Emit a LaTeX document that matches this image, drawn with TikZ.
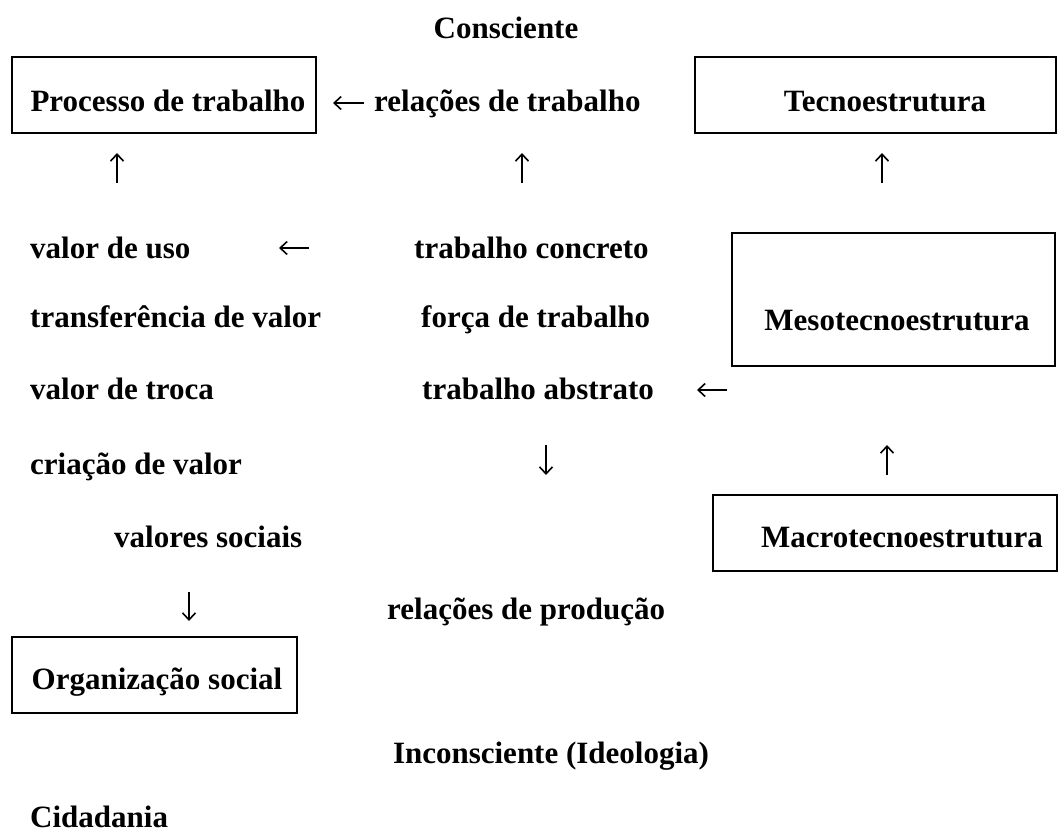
\documentclass[tikz,border=0pt]{standalone}
\usepackage{fontspec}
\setmainfont{Liberation Serif}
\usepackage{tikz}
\usetikzlibrary{arrows.meta,positioning}

\tikzset{
  box/.style={draw, line width=1.6pt, inner sep=0pt},
  lbl/.style={font=\fontsize{31}{36}\selectfont\bfseries, inner sep=0pt},
  glyph/.style={line width=1.6pt, -{Straight Barb[length=7pt,width=13pt,line width=1.6pt]}}
}

\begin{document}
\begin{tikzpicture}[x=1pt,y=-1pt]
\useasboundingbox (0,0) rectangle (1059,832);
% boxes
\node[box, minimum width=304pt, minimum height=76pt] (proc) at (164,95) {};
\node[box, minimum width=361pt, minimum height=76pt] (tecno) at (875.5,95) {};
\node[box, minimum width=323pt, minimum height=133pt] (meso) at (893.5,299.5) {};
\node[box, minimum width=344pt, minimum height=76pt] (macro) at (885,533) {};
\node[box, minimum width=285pt, minimum height=76pt] (org) at (154.5,675) {};
% top
\node[lbl, anchor=base] (consc) at (506,39) {Consciente};
\node[lbl, anchor=base] (proct) at (168,111) {Processo de trabalho};
\node[lbl, anchor=base west] (reltrab) at (374,111) {relações de trabalho};
\node[lbl, anchor=base] (tecnot) at (885,111) {Tecnoestrutura};
% middle rows
\node[lbl, anchor=base west] (uso) at (30,258) {valor de uso};
\node[lbl, anchor=base west] (concr) at (414,258) {trabalho concreto};
\node[lbl, anchor=base west] (transf) at (30,327) {transferência de valor};
\node[lbl, anchor=base west] (forca) at (421,327) {força de trabalho};
\node[lbl, anchor=base] (mesot) at (897,330) {Mesotecnoestrutura};
\node[lbl, anchor=base west] (troca) at (30,399) {valor de troca};
\node[lbl, anchor=base west] (abstr) at (422,399) {trabalho abstrato};
\node[lbl, anchor=base west] (criac) at (30,474) {criação de valor};
\node[lbl, anchor=base west] (socia) at (114,547) {valores sociais};
\node[lbl, anchor=base] (macrot) at (902,547) {Macrotecnoestrutura};
\node[lbl, anchor=base west] (produc) at (387,619) {relações de produção};
\node[lbl, anchor=base] (orgt) at (157,689) {Organização social};
% bottom
\node[lbl, anchor=base] (incons) at (551,763) {Inconsciente (Ideologia)};
\node[lbl, anchor=base west] (cidad) at (30,827) {Cidadania};
% arrows
\coordinate (arrAs) at (364,103); \coordinate (arrAe) at (333,103);
\coordinate (arrBs) at (309,248); \coordinate (arrBe) at (279,248);
\coordinate (arrCs) at (727,390); \coordinate (arrCe) at (697,390);
\draw[glyph] (arrAs) -- (arrAe);
\draw[glyph] (arrBs) -- (arrBe);
\draw[glyph] (arrCs) -- (arrCe);
\foreach \n/\x in {upA/117, upB/522, upC/882} {
  \coordinate (\n s) at (\x,183); \coordinate (\n e) at (\x,153);
  \draw[glyph] (\n s) -- (\n e);
}
\coordinate (upDs) at (887,475); \coordinate (upDe) at (887,445);
\draw[glyph] (upDs) -- (upDe);
\coordinate (downAs) at (546,445); \coordinate (downAe) at (546,475);
\draw[glyph] (downAs) -- (downAe);
\coordinate (downBs) at (189,592); \coordinate (downBe) at (189,621);
\draw[glyph] (downBs) -- (downBe);
\end{tikzpicture}
\end{document}
